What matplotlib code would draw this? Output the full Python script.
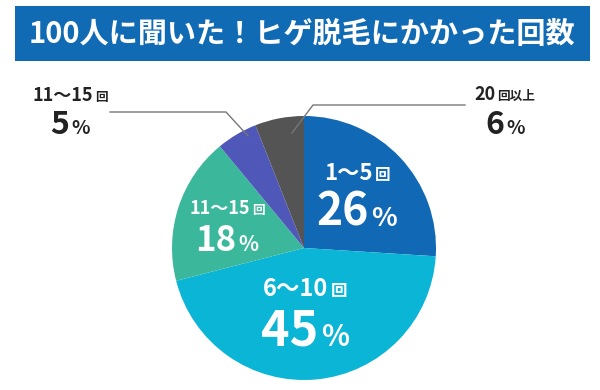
import matplotlib
matplotlib.use("Agg")
import matplotlib.pyplot as plt
from matplotlib.patches import Rectangle

plt.rcParams['font.family'] = ['Noto Sans CJK JP', 'DejaVu Sans']

# データ
title = "100人に聞いた！ヒゲ脱毛にかかった回数"
labels = ["1～5", "6～10", "11～15", "11～15", "20"]
suffixes = ["回", "回", "回", "回", "回以上"]
values = [26, 45, 18, 5, 6]
colors = ["#1169b5", "#0bb5d6", "#3bb89b", "#4f57b8", "#545454"]

fig = plt.figure(figsize=(6, 3.9), dpi=100)

# 円グラフ (中心 304,248 / 半径 132 px)
cx, cy, r = 304, 248, 132
ax = fig.add_axes([(cx - r) / 600, (390 - cy - r) / 390, 2 * r / 600, 2 * r / 390])
ax.pie(values, colors=colors, startangle=90, counterclock=False,
       wedgeprops=dict(linewidth=0))
ax.set_xlim(-1, 1)
ax.set_ylim(-1, 1)
ax.axis("off")

# テキスト用のオーバーレイ (ピクセル座標)
ov = fig.add_axes([0, 0, 1, 1], zorder=5)
ov.set_xlim(0, 600)
ov.set_ylim(390, 0)
ov.axis("off")

# タイトル帯
ov.add_patch(Rectangle((15, 6), 575, 55, facecolor="#106bb4", edgecolor="none"))
ov.text(302, 34, title, color="white", fontsize=21, fontweight="bold",
        ha="center", va="center")

renderer = fig.canvas.get_renderer()


def two_part(x, y, main, suffix, s1, s2, color):
    # 大きい文字と小さい文字を並べて中央揃え
    t1 = ov.text(0, y, main, fontsize=s1, fontweight="bold", color=color,
                 ha="left", va="baseline")
    t2 = ov.text(0, y, suffix, fontsize=s2, fontweight="bold", color=color,
                 ha="left", va="baseline")
    w1 = t1.get_window_extent(renderer).width
    w2 = t2.get_window_extent(renderer).width
    left = x - (w1 + w2 + 2) / 2
    t1.set_x(left)
    t2.set_x(left + w1 + 2)


# ラベル (x, 回ラベルのベースライン, %のベースライン, 色, サイズ)
label_pos = [
    (357, 180, 226, "white", 16, 32),
    (305, 296, 346, "white", 17, 35),
    (227, 214, 251, "white", 13, 25),
    (70, 101, 134, "#222222", 13, 23),
    (505, 100, 134, "#222222", 13, 23),
]

for lab, suf, val, (x, y1, y2, c, s1, s2) in zip(labels, suffixes, values, label_pos):
    two_part(x, y1, lab, suf, s1, s1 * 0.7, c)
    two_part(x, y2, str(val), "%", s2, s2 * 0.6, c)

# 引き出し線
ov.plot([110, 226, 248], [112, 112, 136], color="#777777", lw=1)
ov.plot([465, 313, 292], [105, 105, 133], color="#777777", lw=1)

fig.savefig("out.png", dpi=100)
